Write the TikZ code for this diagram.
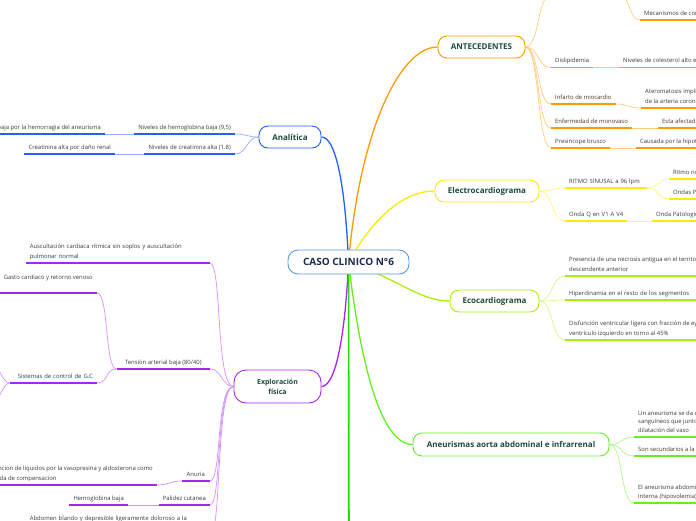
\documentclass[tikz,border=0pt]{standalone}
\usepackage{fontspec}
\setmainfont{Open Sans}
\usetikzlibrary{backgrounds}

\definecolor{titlegreen}{HTML}{1C4B3C}
\definecolor{casoblue}{HTML}{5A9BDB}
\definecolor{casotext}{HTML}{1B2A4E}
\definecolor{itemgray}{HTML}{3A3A3A}
\definecolor{anablue}{HTML}{2460FF}
\definecolor{antorange}{HTML}{FF9A00}
\definecolor{ecgyellow}{HTML}{FFEA00}
\definecolor{ecolime}{HTML}{A8EE10}
\definecolor{aorgreen}{HTML}{66EE22}
\definecolor{downgreen}{HTML}{22DD00}
\definecolor{explpurple}{HTML}{A626F2}

\tikzset{
  topic/.style={draw=#1, line width=0.9pt, rounded corners=9pt, fill=white,
    text=titlegreen, font=\bfseries\fontsize{8}{9.5}\selectfont, align=center,
    minimum height=22pt, inner sep=2pt},
  item/.style={text=itemgray, font=\fontsize{5.9}{9.5}\selectfont, align=left,
    inner xsep=4pt, inner ysep=3pt, text depth=1.4pt,
    append after command={(\tikzlastnode.south west) edge[draw=#1, line width=1.6pt] (\tikzlastnode.south east)}},
  branch/.style={draw=#1, line width=1.3pt},
  twig/.style={draw=#1!50, line width=0.7pt},
}

\begin{document}
\begin{tikzpicture}[x=1pt, y=-1pt]
    \useasboundingbox (0,0) rectangle (696,520);
    \clip (0,0) rectangle (696,520);

    % main topics
    \node[topic=casoblue, text=casotext, font=\bfseries\fontsize{10}{11}\selectfont, minimum width=121pt, minimum height=24pt, rounded corners=10pt] (caso) at (348.5,262) {CASO CLINICO N°6};
    \node[topic=antorange, minimum width=87pt] (ant) at (481.5,47) {ANTECEDENTES};
    \node[topic=anablue, minimum width=62pt] (ana) at (290,137) {Analítica};
    \node[topic=ecgyellow, minimum width=104pt] (ecg) at (487,191) {Electrocardiograma};
    \node[topic=ecolime, minimum width=89pt] (eco) at (494.5,301) {Ecocardiograma};
    \node[topic=aorgreen, minimum width=196pt, minimum height=23pt] (aor) at (511,444.5) {Aneurismas aorta abdominal e infrarrenal};
    \node[topic=explpurple, font=\bfseries\fontsize{7}{10}\selectfont, minimum width=87pt, minimum height=33pt, rounded corners=12pt] (expl) at (277.5,386.5) {Exploración\\física};

    % ANTECEDENTES
    \coordinate (antA) at (551,-5);
    \coordinate (antB) at (619,-5);
    \node[item=antorange, anchor=south west] (mec) at (640,20) {Mecanismos de compensación};
    \node[item=antorange, anchor=south west] (dis) at (551,67.5) {Dislipidemia};
    \node[item=antorange, anchor=south west] (col) at (619,67.5) {Niveles de colesterol alto en sangre};
    \node[item=antorange, anchor=south west] (inf) at (551,104) {Infarto de miocardio};
    \node[item=antorange, anchor=south west] (ate) at (641,108) {Ateromatosis implicada en la oclusión\\de la arteria coronaria};
    \node[item=antorange, anchor=south west] (mon) at (551,128) {Enfermedad de monovaso};
    \node[item=antorange, anchor=south west] (afe) at (658,128) {Esta afectada una sola arteria};
    \node[item=antorange, anchor=south west] (pre) at (551,148) {Presincope brusco};
    \node[item=antorange, anchor=south west] (hpo) at (636,148) {Causada por la hipotensión};

    % Electrocardiograma
    \node[item=ecgyellow, anchor=south west, text width=74pt] (rit) at (565,188) {RITMO SINUSAL a 96 lpm};
    \node[item=ecgyellow, anchor=south west] (rno) at (669,179) {Ritmo normal};
    \node[item=ecgyellow, anchor=south west] (onp) at (669,199) {Ondas P normales};
    \node[item=ecgyellow, anchor=south west, text width=54pt] (onq) at (565,221) {Onda Q en V1 A V4};
    \node[item=ecgyellow, anchor=south west] (pat) at (652,221) {Onda Patologica};

    % Ecocardiograma
    \node[item=ecolime, anchor=south west] (nec) at (565,276) {Presencia de una necrosis antigua en el territorio de la arteria\\descendente anterior};
    \node[item=ecolime, anchor=south west, text width=140pt] (hdn) at (565,300) {Hiperdinamia en el resto de los segmentos};
    \node[item=ecolime, anchor=south west] (dvi) at (565,340) {Disfunción ventricular ligera con fracción de eyección del\\ventrículo izquierdo en torno al 45\%};

    % Aneurismas
    \node[item=aorgreen, anchor=south west, font=\fontsize{5.9}{8.6}\selectfont] (dil) at (634,437) {Un aneurisma se da cuando se debilita la pared de los vasos\\sanguíneos que junto con la presión provocan la\\dilatación del vaso};
    \node[item=aorgreen, anchor=south west] (sec) at (634,456) {Son secundarios a la aterosclerosis};
    \node[item=aorgreen, anchor=south west, font=\fontsize{5.9}{8.6}\selectfont] (rot) at (634,503) {El aneurisma abdominal roto provoca una hemorragia\\interna (hipovolemia)};

    % Analitica
    \node[item=anablue, anchor=south east] (hem) at (235,134) {Niveles de hemoglobina baja (9,5)};
    \node[item=anablue, anchor=south east] (hemr) at (105,134) {Hemoglobina baja por la hemorragia del aneurisma};
    \node[item=anablue, anchor=south east] (cre) at (235,154) {Niveles de creatinina alta (1.8)};
    \node[item=anablue, anchor=south east] (crer) at (115,154) {Creatinina alta por daño renal};

    % Exploracion fisica
    \node[item=explpurple, anchor=south east, text width=176pt, text depth=11pt] (aus) at (210,263) {Auscultación cardiaca rítmica sin soplos y auscultación\\pulmonar normal};
    \node[item=explpurple, anchor=south east, minimum width=93pt] (ten) at (210,369) {Tensión arterial baja (80/40)};
    \node[item=explpurple, anchor=south east, text depth=10pt] (gas) at (97,293) {Gasto cardiaco y retorno venoso};
    \node[item=explpurple, anchor=south east, text width=79pt, align=right] (sis) at (97,383) {Sistemas de control de G.C};
    \node[item=explpurple, anchor=south east, minimum width=28pt] (anu) at (210,481) {Anuria};
    \node[item=explpurple, anchor=south east] (ret) at (157,485) {Retencion de liquidos por la vasopresina y aldosterona como\\medida de compensacion};
    \node[item=explpurple, anchor=south east] (pal) at (210,505) {Palidez cutanea};
    \node[item=explpurple, anchor=south east] (hgb) at (128,505) {Hemoglobina baja};
    \node[item=explpurple, anchor=south east, text width=176pt, text depth=11pt] (abd) at (210,535) {Abdomen blando y depresible ligeramente doloroso a la\\palpación};
    \coordinate (sisA) at (-20,340);
    \coordinate (sisB) at (-20,430);
    \coordinate (down) at (349,540);

    \begin{scope}[on background layer]
        % branches from the centre
        \draw[branch=anablue] (caso.center) .. controls (345,180) and (335,137) .. (ana.east);
        \draw[branch=antorange] (caso.center) .. controls (360,130) and (400,47) .. (ant.west);
        \draw[branch=ecgyellow] (caso.center) .. controls (375,215) and (405,191) .. (ecg.west);
        \draw[branch=ecolime] (caso.center) .. controls (400,280) and (420,301) .. (eco.west);
        \draw[branch=aorgreen] (caso.center) .. controls (360,360) and (380,444.5) .. (aor.west);
        \draw[branch=explpurple] (caso.center) .. controls (345,340) and (335,386.5) .. (expl.east);
        \draw[branch=downgreen, line width=1.6pt] (caso.center) -- (down);

        % ANTECEDENTES
        \draw[twig=antorange] (ant.east) .. controls +(14,0) and +(-14,0) .. (antA);
        \draw[twig=antorange] (antB) .. controls +(12,0) and +(-12,0) .. (mec.south west);
        \draw[twig=antorange] (ant.east) .. controls +(14,0) and +(-14,0) .. (dis.south west);
        \draw[twig=antorange] (ant.east) .. controls +(14,0) and +(-14,0) .. (inf.south west);
        \draw[twig=antorange] (ant.east) .. controls +(14,0) and +(-14,0) .. (mon.south west);
        \draw[twig=antorange] (ant.east) .. controls +(14,0) and +(-14,0) .. (pre.south west);
        \draw[twig=antorange] (dis.south east) -- (col.south west);
        \draw[twig=antorange] (inf.south east) .. controls +(12,0) and +(-12,0) .. (ate.south west);
        \draw[twig=antorange] (mon.south east) -- (afe.south west);
        \draw[twig=antorange] (pre.south east) -- (hpo.south west);

        % Electrocardiograma
        \draw[twig=ecgyellow] (ecg.east) .. controls +(14,0) and +(-14,0) .. (rit.south west);
        \draw[twig=ecgyellow] (ecg.east) .. controls +(14,0) and +(-14,0) .. (onq.south west);
        \draw[twig=ecgyellow] (rit.south east) .. controls +(12,0) and +(-12,0) .. (rno.south west);
        \draw[twig=ecgyellow] (rit.south east) .. controls +(12,0) and +(-12,0) .. (onp.south west);
        \draw[twig=ecgyellow] (onq.south east) -- (pat.south west);

        % Ecocardiograma
        \draw[twig=ecolime] (eco.east) .. controls +(14,0) and +(-14,0) .. (nec.south west);
        \draw[twig=ecolime] (eco.east) .. controls +(14,0) and +(-14,0) .. (hdn.south west);
        \draw[twig=ecolime] (eco.east) .. controls +(14,0) and +(-14,0) .. (dvi.south west);

        % Aneurismas
        \draw[twig=aorgreen] (aor.east) .. controls +(14,0) and +(-14,0) .. (dil.south west);
        \draw[twig=aorgreen] (aor.east) .. controls +(14,0) and +(-14,0) .. (sec.south west);
        \draw[twig=aorgreen] (aor.east) .. controls +(14,0) and +(-14,0) .. (rot.south west);

        % Analitica
        \draw[twig=anablue] (ana.west) .. controls +(-12,0) and +(12,0) .. (hem.south east);
        \draw[twig=anablue] (ana.west) .. controls +(-12,0) and +(12,0) .. (cre.south east);
        \draw[twig=anablue] (hem.south west) -- (hemr.south east);
        \draw[twig=anablue] (cre.south west) -- (crer.south east);

        % Exploracion fisica
        \draw[twig=explpurple] (expl.west) .. controls +(-18,0) and +(12,0) .. (aus.south east);
        \draw[twig=explpurple] (expl.west) .. controls +(-12,0) and +(12,0) .. (ten.south east);
        \draw[twig=explpurple] (expl.west) .. controls +(-18,0) and +(12,0) .. (anu.south east);
        \draw[twig=explpurple] (expl.west) .. controls +(-18,0) and +(12,0) .. (pal.south east);
        \draw[twig=explpurple] (expl.west) .. controls +(-18,0) and +(12,0) .. (abd.south east);
        \draw[twig=explpurple] (ten.south west) .. controls +(-12,0) and +(12,0) .. (gas.south east);
        \draw[twig=explpurple] (ten.south west) .. controls +(-12,0) and +(12,0) .. (sis.south east);
        \draw[twig=explpurple] (sis.south west) .. controls +(-10,0) and +(10,0) .. (sisA);
        \draw[twig=explpurple] (sis.south west) .. controls +(-10,0) and +(10,0) .. (sisB);
        \draw[twig=explpurple] (anu.south west) .. controls +(-12,0) and +(12,0) .. (ret.south east);
        \draw[twig=explpurple] (pal.south west) -- (hgb.south east);
    \end{scope}
\end{tikzpicture}
\end{document}
